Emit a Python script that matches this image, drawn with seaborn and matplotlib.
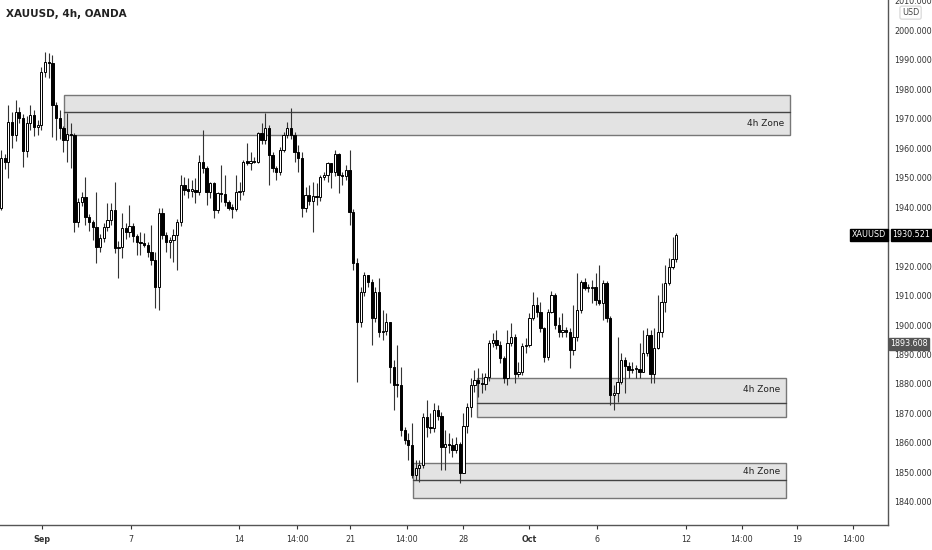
import numpy as np
import pandas as pd
import matplotlib
matplotlib.use("Agg")
import matplotlib.pyplot as plt
from matplotlib import font_manager
from matplotlib.patches import Rectangle
import seaborn as sns

# 4h candles (open = previous close)
first_open = 1939.7
closes = [1956.6, 1955.3, 1968.8, 1964.4, 1972.2, 1970.2, 1959.0, 1968.5, 1971.2, 1967.1,
          1967.8, 1985.8, 1989.2, 1988.8, 1974.6, 1970.2, 1966.8, 1962.7, 1964.7, 1964.4,
          1934.9, 1941.7, 1943.4, 1936.6, 1934.9, 1933.2, 1926.4, 1929.5, 1933.2, 1935.6,
          1939.0, 1926.1, 1926.4, 1932.9, 1931.5, 1933.6, 1930.2, 1928.1, 1927.8, 1927.1,
          1924.7, 1922.0, 1912.9, 1938.0, 1930.5, 1928.1, 1928.8, 1930.5, 1934.9, 1947.5,
          1945.8, 1945.6, 1945.9, 1945.1, 1955.3, 1953.2, 1945.1, 1948.1, 1939.0, 1944.7,
          1944.4, 1941.7, 1939.7, 1939.5, 1945.1, 1945.4, 1955.3, 1955.1, 1955.6, 1955.3,
          1965.1, 1962.7, 1966.8, 1957.6, 1953.2, 1951.9, 1959.3, 1964.4, 1966.8, 1964.4,
          1958.6, 1956.6, 1939.7, 1944.1, 1942.0, 1943.7, 1943.4, 1950.2, 1950.8, 1954.9,
          1951.9, 1957.9, 1950.8, 1950.5, 1952.5, 1938.3, 1921.0, 1901.0, 1911.2, 1916.9,
          1914.6, 1902.4, 1911.2, 1897.6, 1897.9, 1901.0, 1885.8, 1879.7, 1879.5, 1864.4,
          1861.0, 1859.3, 1849.1, 1851.5, 1852.5, 1868.8, 1865.4, 1865.2, 1871.2, 1869.1,
          1858.6, 1859.6, 1859.4, 1857.6, 1859.6, 1849.8, 1865.8, 1872.2, 1879.7, 1881.4,
          1880.3, 1880.0, 1882.4, 1893.9, 1894.9, 1893.2, 1888.8, 1882.0, 1893.9, 1895.9,
          1883.4, 1884.1, 1892.9, 1893.3, 1902.4, 1906.8, 1904.4, 1899.0, 1889.1, 1904.4,
          1910.2, 1900.0, 1897.6, 1898.2, 1897.6, 1891.5, 1895.9, 1905.1, 1914.6, 1912.5,
          1912.7, 1912.9, 1908.5, 1907.5, 1914.2, 1902.4, 1876.3, 1876.9, 1880.7, 1888.1,
          1886.1, 1884.7, 1885.0, 1885.2, 1884.1, 1890.5, 1896.6, 1883.4, 1892.2, 1897.6,
          1907.8, 1914.2, 1919.7, 1922.4, 1930.5]
highs = [1959.3, 1958.0, 1974.6, 1972.2, 1976.3, 1974.0, 1971.5, 1971.0, 1974.6, 1972.9,
         1969.5, 1987.5, 1992.5, 1992.2, 1991.5, 1975.5, 1972.9, 1967.5, 1971.9, 1968.5,
         1965.0, 1943.0, 1945.1, 1950.2, 1937.5, 1935.5, 1945.1, 1931.0, 1934.5, 1941.4,
         1941.4, 1948.5, 1928.5, 1938.0, 1934.5, 1940.7, 1934.5, 1931.0, 1931.5, 1931.2,
         1928.0, 1933.9, 1924.7, 1939.7, 1939.7, 1931.5, 1930.0, 1932.5, 1936.0, 1950.8,
         1950.2, 1949.8, 1949.2, 1949.8, 1957.6, 1966.1, 1954.0, 1948.5, 1948.5, 1945.1,
         1954.2, 1950.8, 1942.5, 1941.0, 1950.8, 1948.5, 1955.9, 1961.7, 1958.6, 1957.0,
         1965.4, 1968.5, 1971.9, 1967.8, 1958.5, 1954.0, 1960.5, 1965.4, 1968.8, 1973.6,
         1965.5, 1961.0, 1958.6, 1946.8, 1947.5, 1948.5, 1948.1, 1950.8, 1951.9, 1955.3,
         1954.2, 1959.3, 1958.3, 1952.0, 1954.2, 1959.3, 1939.5, 1922.7, 1913.0, 1918.0,
         1916.9, 1915.5, 1912.9, 1915.9, 1905.1, 1904.1, 1901.0, 1888.1, 1893.2, 1885.8,
         1865.4, 1863.4, 1866.8, 1854.2, 1854.2, 1870.0, 1874.6, 1870.2, 1873.6, 1872.9,
         1870.5, 1864.4, 1863.4, 1861.7, 1862.0, 1860.3, 1870.2, 1873.6, 1882.0, 1884.7,
         1885.4, 1883.7, 1883.7, 1894.9, 1897.3, 1898.3, 1894.5, 1889.5, 1898.3, 1900.7,
         1897.0, 1887.5, 1894.0, 1895.6, 1904.1, 1911.2, 1909.5, 1907.8, 1899.3, 1905.5,
         1911.5, 1911.0, 1902.7, 1904.1, 1899.3, 1899.0, 1906.8, 1917.6, 1915.2, 1916.0,
         1914.0, 1915.2, 1917.6, 1920.3, 1915.2, 1915.0, 1903.0, 1879.7, 1895.9, 1890.5,
         1889.0, 1887.5, 1887.5, 1886.5, 1893.9, 1898.3, 1899.0, 1898.3, 1899.0, 1910.2,
         1914.2, 1920.3, 1922.7, 1929.8, 1931.3]
lows = [1939.0, 1953.0, 1949.8, 1960.0, 1962.5, 1968.5, 1953.6, 1957.0, 1966.0, 1964.0,
        1964.4, 1966.0, 1984.0, 1983.7, 1963.7, 1962.7, 1963.0, 1958.6, 1955.3, 1953.2,
        1931.5, 1933.2, 1940.5, 1934.0, 1932.0, 1928.8, 1921.0, 1924.7, 1928.1, 1932.0,
        1933.9, 1924.4, 1915.9, 1922.7, 1929.0, 1930.0, 1928.1, 1923.7, 1923.7, 1926.4,
        1923.0, 1920.5, 1905.8, 1905.1, 1929.0, 1924.7, 1922.7, 1921.4, 1918.6, 1933.5,
        1944.1, 1943.0, 1943.4, 1941.4, 1944.0, 1951.5, 1940.7, 1943.0, 1936.3, 1938.0,
        1941.7, 1940.5, 1939.0, 1936.3, 1938.5, 1942.4, 1944.1, 1954.2, 1952.5, 1954.9,
        1954.9, 1961.5, 1961.5, 1947.5, 1951.9, 1949.2, 1950.8, 1958.5, 1963.5, 1963.0,
        1955.3, 1951.9, 1936.6, 1938.3, 1940.7, 1931.5, 1940.7, 1942.0, 1949.0, 1948.5,
        1946.4, 1950.5, 1944.7, 1947.5, 1949.2, 1933.9, 1918.5, 1880.7, 1899.3, 1910.0,
        1913.0, 1893.2, 1901.0, 1896.0, 1895.0, 1896.5, 1880.3, 1871.2, 1875.6, 1862.5,
        1859.5, 1854.2, 1848.1, 1847.5, 1846.8, 1851.5, 1862.0, 1863.4, 1863.7, 1867.8,
        1850.8, 1850.8, 1856.6, 1855.2, 1856.6, 1846.4, 1849.8, 1863.4, 1868.8, 1877.3,
        1875.6, 1876.9, 1878.0, 1881.0, 1892.5, 1892.0, 1887.0, 1880.3, 1879.7, 1893.0,
        1880.5, 1882.4, 1883.0, 1890.5, 1892.5, 1901.7, 1902.7, 1897.5, 1887.5, 1888.1,
        1904.1, 1898.5, 1895.9, 1895.9, 1895.9, 1885.4, 1889.9, 1894.5, 1904.0, 1911.8,
        1911.2, 1907.5, 1906.8, 1906.8, 1901.7, 1901.0, 1872.9, 1871.2, 1874.0, 1880.0,
        1876.9, 1882.0, 1883.7, 1882.0, 1882.0, 1885.0, 1889.5, 1880.3, 1880.3, 1892.0,
        1896.0, 1904.5, 1913.5, 1919.0, 1921.5]

# time axis labels (bar index where each label sits)
tick_pos = [11.2, 35.4, 64.9, 80.7, 95.1, 110.6, 126.0, 144.0, 162.4, 186.6, 201.9, 216.9, 232.2]
tick_labels = ["Sep", "7", "14", "14:00", "21", "14:00", "28", "Oct", "6", "12", "14:00", "19", "14:00"]

# supply/demand zones
zone_left = [17.2, 129.7, 112.3]
zone_right = [215.0, 213.9, 213.9]
zone_bottom = [1964.4, 1868.7, 1841.3]
zone_mid = [1972.1, 1873.5, 1847.4]
zone_top = [1978.0, 1882.1, 1853.1]
zone_label_y = [1968.2, 1878.0, 1850.3]

last_price = 1930.521
marker_price = 1893.608

opens = [first_open] + closes[:-1]
df = pd.DataFrame({"open": opens, "high": highs, "low": lows, "close": closes})
df["bar"] = np.arange(len(df))
df["up"] = df["close"] >= df["open"]

sns.set_theme(style="white")
plt.rcParams["font.family"] = ["DejaVu Sans"]

# narrow font for the price scale, like the original
installed = {f.name for f in font_manager.fontManager.ttflist}
if "Liberation Sans Narrow" in installed:
    axis_font, axis_size = "Liberation Sans Narrow", 7.0
else:
    axis_font, axis_size = "DejaVu Sans", 5.8

fig = plt.figure(figsize=(9.32, 5.5), dpi=100)
ax = fig.add_axes([0.0, 0.0455, 0.9528, 0.9545])

# zones first so the candles sit on top
for l, r, b, m, t, ly in zip(zone_left, zone_right, zone_bottom, zone_mid, zone_top, zone_label_y):
    ax.add_patch(Rectangle((l, b), r - l, t - b, facecolor="#e3e3e3", edgecolor="#777777",
                           linewidth=1.0, zorder=1))
    ax.plot([l, r], [m, m], color="#444444", linewidth=1.0, zorder=1.5)
    ax.text(r - 1.5, ly, "4h Zone", ha="right", va="center", fontsize=6.5, color="#222222", zorder=2)

# wicks
ax.vlines(df["bar"], df["low"], df["high"], color="#333333", linewidth=0.8, zorder=2)
# bodies
body_bottom = df[["open", "close"]].min(axis=1)
body_height = (df["close"] - df["open"]).abs().clip(lower=0.35)
ax.bar(df["bar"], body_height, bottom=body_bottom, width=0.62,
       color=np.where(df["up"], "white", "black"), edgecolor="black", linewidth=0.7, zorder=3)

ax.set_xlim(-0.27, 241.7)
ax.set_ylim(1832.2, 2010.2)

ax.yaxis.tick_right()
ax.set_yticks(np.arange(1840, 2011, 10))
ax.set_yticklabels([f"{v:.3f}" for v in np.arange(1840, 2011, 10)])
ax.set_xticks(tick_pos)
ax.set_xticklabels(tick_labels)
for lab in ax.get_xticklabels():
    lab.set_family(axis_font)
    if lab.get_text() in ("Sep", "Oct"):
        lab.set_fontweight("bold")
for lab in ax.get_yticklabels():
    lab.set_family(axis_font)
ax.tick_params(axis="y", which="both", right=True, length=3, width=0.8, pad=1.5,
               labelsize=axis_size, colors="#333333")
ax.tick_params(axis="x", which="both", bottom=True, length=3, width=0.8, pad=4,
               labelsize=axis_size, colors="#333333")

sns.despine(ax=ax, left=True, top=True, right=False, bottom=False)
ax.spines["right"].set_color("#555555")
ax.spines["bottom"].set_color("#555555")
ax.spines["right"].set_linewidth(1.0)
ax.spines["bottom"].set_linewidth(1.0)
ax.grid(False)

fig.text(0.006, 0.975, "XAUUSD, 4h, OANDA", fontsize=7.5, fontweight="bold",
         color="#222222", ha="left", va="center")

# price markers on the right axis
ax.annotate(f"{last_price:.3f}", xy=(1.0, last_price), xycoords=("axes fraction", "data"),
            xytext=(3, 0), textcoords="offset points", ha="left", va="center",
            fontsize=axis_size, family=axis_font, color="white",
            bbox=dict(boxstyle="square,pad=0.2", facecolor="black", edgecolor="black"),
            annotation_clip=False, zorder=10)
ax.annotate("XAUUSD", xy=(1.0, last_price), xycoords=("axes fraction", "data"),
            xytext=(-1.5, 0), textcoords="offset points", ha="right", va="center",
            fontsize=axis_size, family=axis_font, color="white",
            bbox=dict(boxstyle="square,pad=0.2", facecolor="black", edgecolor="black"),
            annotation_clip=False, zorder=10)
ax.annotate(f"{marker_price:.3f}", xy=(1.0, marker_price), xycoords=("axes fraction", "data"),
            xytext=(1.5, 0), textcoords="offset points", ha="left", va="center",
            fontsize=axis_size, family=axis_font, color="white",
            bbox=dict(boxstyle="square,pad=0.15", facecolor="#555555", edgecolor="#555555"),
            annotation_clip=False, zorder=10)
fig.text(0.977, 0.977, "USD", fontsize=axis_size, family=axis_font, color="#444444",
         ha="center", va="center",
         bbox=dict(boxstyle="round,pad=0.25", facecolor="white", edgecolor="#dddddd"))

fig.savefig("out.png", dpi=100)
